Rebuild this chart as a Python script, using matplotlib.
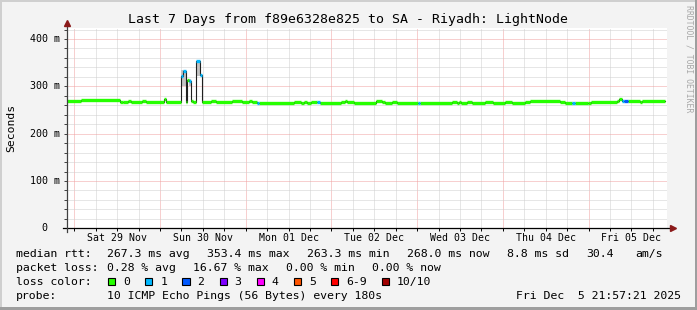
import numpy as np
import pandas as pd
import matplotlib
matplotlib.use('Agg')
import matplotlib.pyplot as plt
import matplotlib.dates as mdates
from matplotlib.patches import Rectangle

plt.rcParams['font.family'] = ['DejaVu Sans Mono']

# ---- data ----
start = np.datetime64('2025-11-28T21:57:21')
end = np.datetime64('2025-12-05T21:57:21')
last_h = 167.4   # data stops a little before the right edge

# median rtt steps: start hour (from start), value in ms, loss bucket
step_h = [0.0, 3.9, 14.8, 15.7, 17.1, 17.9, 21.0, 22.1, 27.2, 27.7,
          31.9, 32.5, 33.3, 33.5, 34.1, 34.6, 35.2, 36.1, 37.2, 37.8,
          40.3, 41.7, 46.2, 49.0, 51.0, 51.8, 53.2, 53.8, 63.6, 65.5,
          66.4, 67.2, 68.3, 70.0, 70.8, 76.7, 77.8, 78.4, 80.4, 86.5,
          88.2, 89.0, 91.0, 92.4, 98.3, 98.8, 107.8, 109.2, 109.8, 110.3,
          112.0, 113.4, 117.0, 119.3, 122.6, 124.6, 128.2, 129.6, 138.0, 139.4,
          141.4, 142.2, 145.9, 146.7, 154.0, 154.6, 155.4, 156.0, 157.1, 160.4,
          161.0]
median_ms = [268.0, 270.8, 266.0, 267.0, 268.5, 267.0, 268.5, 267.0, 273.0, 267.0,
             322.0, 333.0, 267.0, 313.0, 312.0, 270.0, 267.0, 354.0, 325.0, 267.5,
             269.0, 267.5, 269.0, 267.5, 268.5, 266.5, 264.0, 265.5, 266.5, 265.5,
             266.5, 265.5, 266.5, 266.0, 265.5, 267.0, 269.0, 267.5, 265.5, 269.0,
             267.0, 265.5, 266.5, 265.5, 264.5, 265.5, 266.5, 265.5, 266.5, 265.5,
             266.5, 265.5, 266.5, 265.5, 267.0, 264.5, 266.5, 269.0, 266.5, 265.5,
             264.0, 265.5, 264.5, 267.5, 270.0, 273.0, 270.0, 269.0, 268.5, 266.5,
             268.0]
loss_bucket = [0, 0, 0, 0, 0, 0, 0, 0, 0, 0,
               1, 1, 0, 0, 1, 0, 0, 1, 1, 0,
               0, 0, 0, 0, 0, 0, 1, 0, 0, 0,
               0, 0, 0, 1, 0, 0, 0, 0, 0, 0,
               0, 0, 0, 0, 1, 0, 0, 0, 0, 0,
               0, 0, 0, 0, 0, 0, 0, 0, 0, 0,
               1, 0, 0, 0, 0, 0, 1, 2, 0, 0,
               0]

# smoke (ping spread) where it is visible: start hour, end hour, low, high
smoke_start_h = [31.9, 34.1, 36.1]
smoke_end_h = [33.3, 34.6, 37.2]
smoke_lo = [300.0, 300.0, 322.0]
smoke_hi = [335.0, 316.0, 354.0]

loss_labels = ['0', '1', '2', '3', '4', '5', '6-9', '10/10']
loss_colors = ['#26ff00', '#00b8ff', '#0059ff', '#7e00ff',
               '#ff00fe', '#ff5500', '#ff0000', '#a10000']

y_major = [0, 100, 200, 300, 400]
y_major_labels = ['0', '100 m', '200 m', '300 m', '400 m']

title = 'Last 7 Days from f89e6328e825 to SA - Riyadh: LightNode'
legend_rows = [
    [(16, 'median rtt:'), (107, '267.3 ms avg'), (207, '353.4 ms max'),
     (307, '263.3 ms min'), (407, '268.0 ms now'), (507, '8.8 ms sd'),
     (586, '30.4'), (635, 'am/s')],
    [(16, 'packet loss:'), (107, '0.28 % avg'), (193, '16.67 % max'),
     (286, '0.00 % min'), (372, '0.00 % now')],
    [(16, 'loss color:')],
    [(16, 'probe:'), (107, '10 ICMP Echo Pings (56 Bytes) every 180s')],
]
stamp = 'Fri Dec  5 21:57:21 2025'

# ---- figure ----
W, H = 697, 310
fig = plt.figure(figsize=(W / 100, H / 100), dpi=100, facecolor='#f3f3f3')
fx = lambda x: x / W
fy = lambda y: 1 - y / H

ax = fig.add_axes([fx(67), fy(228.3), 600 / W, 200.3 / H])
ax.set_facecolor('white')
for s in ax.spines.values():
    s.set_visible(False)

to_num = lambda h: mdates.date2num(start + np.array(np.array(h) * 3600, dtype='timedelta64[s]'))
t_start = mdates.date2num(start)
t_end = mdates.date2num(end)
ax.set_xlim(t_start, t_end)
ax.set_ylim(0, 423.3)

# grid
six_h = pd.date_range('2025-11-29 00:00', '2025-12-05 18:00', freq='6h')
for t in six_h:
    c = '#f0a0a0' if t.hour == 0 else '#cfcfcf'
    ax.axvline(mdates.date2num(t), color=c, lw=0.72, ls=(0, (1, 1)), zorder=0)
for v in np.arange(20, 424, 20):
    c = '#f0a0a0' if v % 100 == 0 else '#cfcfcf'
    ax.axhline(v, color=c, lw=0.72, ls=(0, (1, 1)), zorder=0)

# smoke
s0 = to_num(smoke_start_h)
s1 = to_num(smoke_end_h)
ax.bar(s0, np.array(smoke_hi) - np.array(smoke_lo), width=s1 - s0,
       bottom=smoke_lo, align='edge', color='#c4c4c4', zorder=1)

# median: dark step line, then loss coloured horizontal pieces on top
t = to_num(step_h)
t_next = np.append(t[1:], to_num(last_h))
vals = np.array(median_ms)
ax.step(np.append(t, t_next[-1]), np.append(vals, vals[-1]), where='post',
        color='#202020', lw=0.8, zorder=2)
lb = np.array(loss_bucket)
for k, col in enumerate(loss_colors):
    m = lb == k
    if m.any():
        ax.hlines(vals[m], t[m], t_next[m], color=col, lw=2.4, zorder=3,
                  capstyle='butt')

# axes lines + arrows
ax.plot([-4 / 600, 1 + 5 / 600], [0, 0], transform=ax.transAxes, color='black',
        lw=0.9, clip_on=False, zorder=5)
ax.plot([0, 0], [-3.5 / 200, 1 + 4 / 200], transform=ax.transAxes, color='#404040',
        lw=0.9, clip_on=False, zorder=5)
ax.plot([1 + 6 / 600], [0], marker='>', ms=4.5, color='#8b1a1a',
        transform=ax.transAxes, clip_on=False, zorder=6)
ax.plot([0], [1 + 5 / 200], marker='^', ms=4.5, color='#8b1a1a',
        transform=ax.transAxes, clip_on=False, zorder=6)

# ticks
ax.set_xticks([mdates.date2num(x) for x in six_h])
ax.set_xticklabels([x.strftime('%a %d %b') if x.hour == 12 else '' for x in six_h])
ax.tick_params(axis='x', length=2, width=0.7, direction='out', pad=1.5,
               labelsize=7.1, colors='black')
ax.set_yticks(np.arange(0, 424, 20))
ax.set_yticklabels([])
ax.tick_params(axis='y', length=2, width=0.7, direction='out', colors='#404040')
for v, lab in zip(y_major, y_major_labels):
    xoff = -7 / 600 if lab != '0' else -20 / 600
    ax.text(xoff, v, lab, transform=ax.get_yaxis_transform(), ha='right',
            va='center', fontsize=7.2)

# texts
fig.text(fx(348), fy(19), title, ha='center', va='center', fontsize=9.55)
fig.text(fx(11), fy(128), 'Seconds', rotation=90, ha='center', va='center', fontsize=8.2)
fig.text(fx(688.5), fy(5), 'RRDTOOL / TOBI OETIKER', rotation=270, ha='center',
         va='top', fontsize=5.9, color='#a8a8a8')

row_y = [254, 268.3, 281.7, 296]
for yy, row in zip(row_y, legend_rows):
    for xx, txt in row:
        fig.text(fx(xx), fy(yy), txt, ha='left', va='center', fontsize=8.25)
fig.text(fx(681), fy(296), stamp, ha='right', va='center', fontsize=8.25)

# loss colour swatches
bx = 108.3
for lab, col in zip(loss_labels, loss_colors):
    fig.add_artist(Rectangle((fx(bx), fy(285.2)), 7 / W, 7 / H, transform=fig.transFigure,
                             facecolor=col, edgecolor='black', lw=0.8))
    fig.text(fx(bx + 15), fy(281.7), lab, ha='left', va='center', fontsize=8.25)
    bx = bx + 15 + len(lab) * 6.9 + 15.2

# frame
fig.add_artist(Rectangle((0, 0), 2 / W, 1, transform=fig.transFigure, color='#cfcfcf', lw=0))
fig.add_artist(Rectangle((0, 1 - 2 / H), 1, 2 / H, transform=fig.transFigure, color='#cfcfcf', lw=0))
fig.add_artist(Rectangle((1 - 2 / W, 0), 2 / W, 1, transform=fig.transFigure, color='#9e9e9e', lw=0))
fig.add_artist(Rectangle((0, 0), 1, 3 / H, transform=fig.transFigure, color='#9e9e9e', lw=0))

fig.savefig('out.png', dpi=100, facecolor=fig.get_facecolor())
